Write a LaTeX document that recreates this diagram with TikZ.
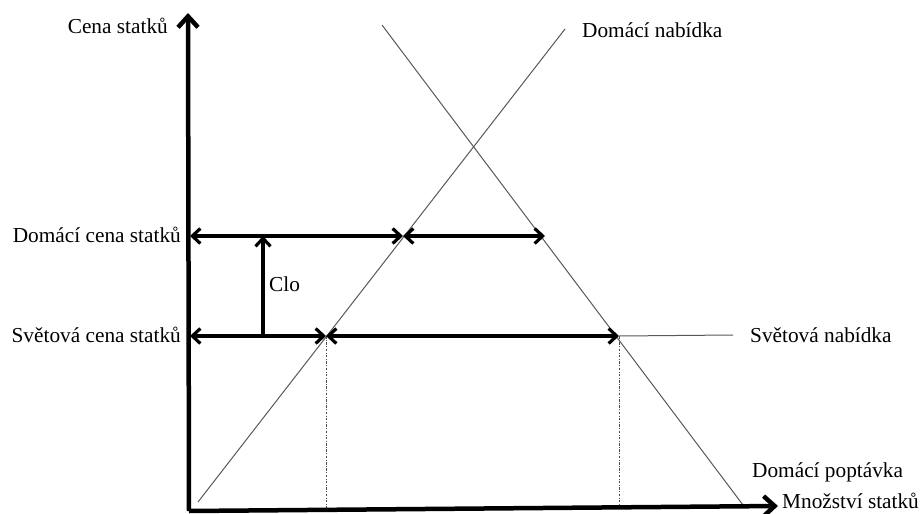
\documentclass[tikz,border=0pt]{standalone}
\usepackage{fontspec}
\setmainfont{Liberation Serif}
\usetikzlibrary{arrows.meta}
\begin{document}
\begin{tikzpicture}[x=1pt,y=-1pt,
  lbl/.style={inner sep=0pt,font=\fontsize{21.3}{25}\selectfont},
  axisline/.style={line width=4.5pt,-{Straight Barb[length=11pt,width=20pt]}},
  dblarrow/.style={line width=3.2pt,{Straight Barb[length=8pt,width=15pt]}-{Straight Barb[length=8pt,width=15pt]}},
  onearrow/.style={line width=3.2pt,-{Straight Barb[length=8pt,width=15pt]}},
  curve/.style={line width=1pt,black!65},
  dropline/.style={line width=0.8pt,black!70,dash pattern=on 2.5pt off 1.5pt on 0.8pt off 1.5pt}]
\useasboundingbox (0,0) rectangle (924,514);
\fill[white] (0,0) rectangle (924,514);
% key points
\coordinate (O) at (189,511);
\coordinate (Ytop) at (188,13);
\coordinate (Xend) at (778,506);
\coordinate (Sbot) at (198,502);
\coordinate (Stop) at (565,29);
\coordinate (Dtop) at (382,25);
\coordinate (Dbot) at (743,505);
\coordinate (PdAx) at (190,236);
\coordinate (PdS) at (403,236);
\coordinate (PdD) at (545,236);
\coordinate (PwAx) at (190,336);
\coordinate (PwS) at (326,336);
\coordinate (PwD) at (619,336);
\coordinate (WSend) at (733,335);
\coordinate (CloTop) at (263,236);
\coordinate (CloBot) at (263,336);
\coordinate (PwSbase) at (326,510);
\coordinate (PwDbase) at (619,507);
% curves
\draw[curve] (Sbot) -- (Stop);
\draw[curve] (Dtop) -- (Dbot);
\draw[curve] (PwD) -- (WSend);
\draw[dropline] (PwS) -- (PwSbase);
\draw[dropline] (PwD) -- (PwDbase);
% axes
\draw[axisline] (O) -- (Ytop);
\draw[axisline] (O) -- (Xend);
% arrows
\draw[dblarrow] (PdAx) -- (PdS);
\draw[dblarrow] (PdS) -- (PdD);
\draw[dblarrow] (PwAx) -- (PwS);
\draw[dblarrow] (PwS) -- (PwD);
\draw[onearrow] (CloBot) -- (CloTop);
% labels
\node[lbl,anchor=base east] (cena) at (168,33) {Cena statků};
\node[lbl,anchor=base east] (domcena) at (181,242) {Domácí cena statků};
\node[lbl,anchor=base east] (svcena) at (181,342) {Světová cena statků};
\node[lbl,anchor=base west] (clo) at (269,291) {Clo};
\node[lbl,anchor=base west] (domnab) at (582,37) {Domácí nabídka};
\node[lbl,anchor=base west] (svnab) at (750,342) {Světová nabídka};
\node[lbl,anchor=base west] (dompop) at (752,477) {Domácí poptávka};
\node[lbl,anchor=base west] (mnoz) at (782,508) {Množství statků};
\end{tikzpicture}
\end{document}
